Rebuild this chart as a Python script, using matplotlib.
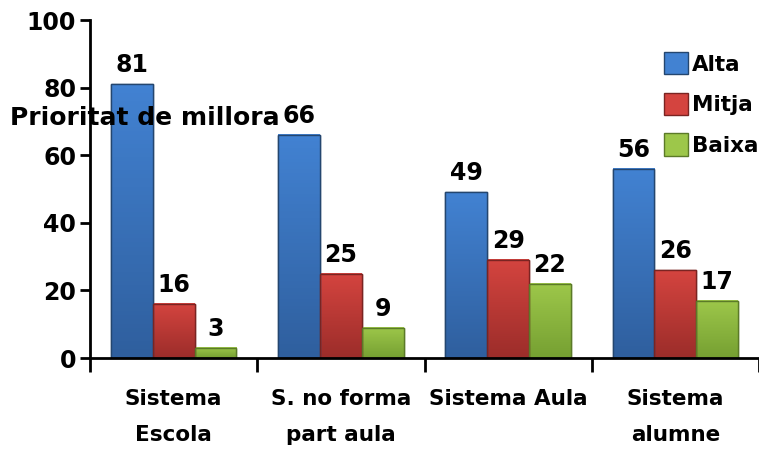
import numpy as np
import matplotlib
matplotlib.use("Agg")
import matplotlib.pyplot as plt
from matplotlib.colors import LinearSegmentedColormap

categories = ["Sistema\nEscola", "S. no forma\npart aula", "Sistema Aula", "Sistema\nalumne"]
series = ["Alta", "Mitja", "Baixa"]
alta = [81, 66, 49, 56]
mitja = [16, 25, 29, 26]
baixa = [3, 9, 22, 17]

# (top colour, bottom colour, edge colour) per series
palette = {
    "Alta": ("#4282d2", "#2f5f9e", "#24466f"),
    "Mitja": ("#d4443f", "#9c2d2a", "#7a2422"),
    "Baixa": ("#9dc74a", "#76a032", "#5b7a28"),
}

plt.rcParams["font.family"] = ["DejaVu Sans"]
plt.rcParams["font.weight"] = "bold"

fig = plt.figure(figsize=(7.59, 4.58), dpi=100)
ax = fig.add_axes([90 / 759, 1 - 358 / 458, 1 - 90 / 759, (358 - 20) / 458])

x = np.arange(len(categories))
w = 0.25
handles = []
for i, (name, vals) in enumerate(zip(series, [alta, mitja, baixa])):
    top, bottom, edge = palette[name]
    cmap = LinearSegmentedColormap.from_list(name, [bottom, top])
    bars = ax.bar(x + (i - 1) * w, vals, w, color=top, edgecolor=edge,
                  linewidth=1.0, label=name, zorder=2)
    for b, v in zip(bars, vals):
        x0, y0 = b.get_x(), b.get_y()
        grad = np.linspace(0, 1, 64).reshape(-1, 1)
        ax.imshow(grad, cmap=cmap, origin="lower", aspect="auto",
                  extent=(x0, x0 + b.get_width(), y0, y0 + b.get_height()),
                  zorder=2.1)
        ax.add_patch(plt.Rectangle((x0, y0), b.get_width(), b.get_height(),
                                   fill=False, edgecolor=edge, lw=1.0, zorder=2.2))
        ax.annotate(f"{v}", (x0 + b.get_width() / 2, v), xytext=(0, 5),
                    textcoords="offset points", ha="center", va="bottom",
                    fontsize=17, fontweight="bold", zorder=3)
    handles.append(bars)

ax.set_xlim(-0.5, len(categories) - 0.5)
ax.set_ylim(0, 100)
ax.set_yticks(range(0, 101, 20))
ax.tick_params(axis="y", direction="out", length=7, width=2, labelsize=17, pad=3)

# boundaries get the tick marks, group centres get the labels
ax.set_xticks(np.arange(len(categories) + 1) - 0.5)
ax.set_xticklabels([])
ax.tick_params(axis="x", which="major", direction="out", length=10, width=2)
ax.set_xticks(x, minor=True)
ax.set_xticklabels(categories, minor=True, fontsize=15.5, fontweight="bold",
                   linespacing=2.0)
ax.tick_params(axis="x", which="minor", length=0, pad=22)

for s in ("top", "right"):
    ax.spines[s].set_visible(False)
for s in ("left", "bottom"):
    ax.spines[s].set_linewidth(2)

leg = ax.legend(handles=handles, loc="upper left", bbox_to_anchor=(0.845, 0.93),
                frameon=False, fontsize=15.5, handlelength=1.1, handleheight=1.2,
                handletextpad=0.2, labelspacing=0.85, borderaxespad=0)
for t in leg.get_texts():
    t.set_fontweight("bold")

fig.text(10 / 759, 1 - 118 / 458, "Prioritat de millora", fontsize=18,
         fontweight="bold", ha="left", va="center", zorder=10)

fig.savefig("out.png", dpi=100)
